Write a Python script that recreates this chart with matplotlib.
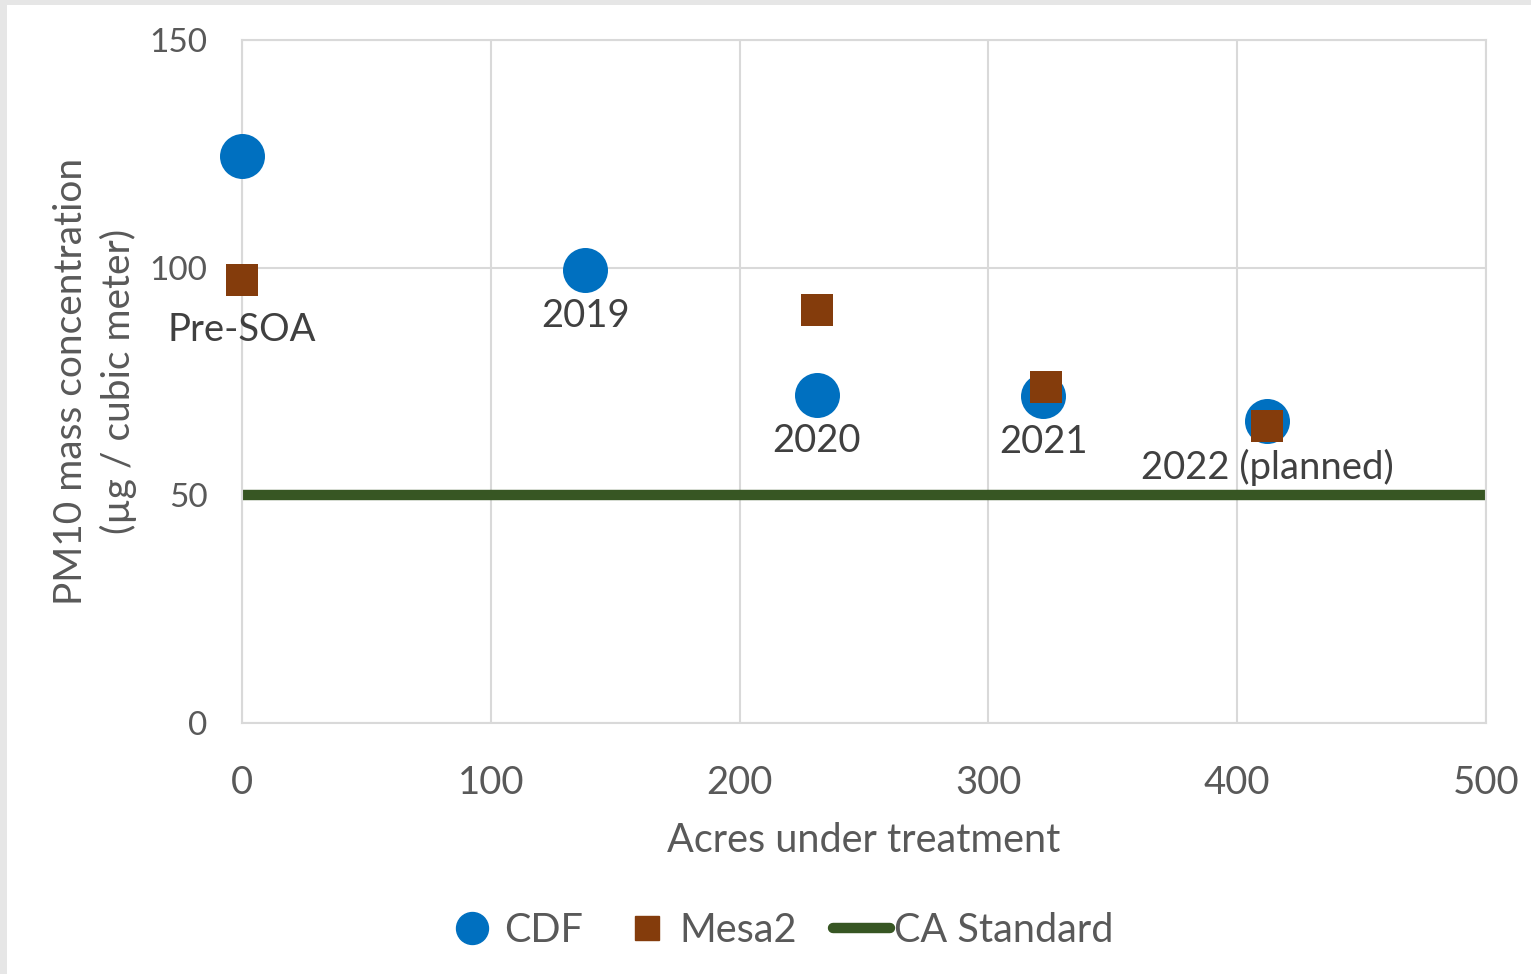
import matplotlib.pyplot as plt
from matplotlib.patches import Rectangle
from matplotlib.lines import Line2D

plt.rcParams['font.family'] = ['Lato', 'DejaVu Sans']

# Data
cdf_acres = [0, 138, 231, 322, 412]
cdf_pm10 = [124.5, 99.5, 72.0, 71.8, 66.3]
mesa2_acres = [0, 231, 323, 412]
mesa2_pm10 = [97.3, 90.7, 73.8, 65.2]
point_labels = ['Pre-SOA', '2019', '2020', '2021', '2022 (planned)']
ca_standard = 50
x_ticks = [0, 100, 200, 300, 400, 500]
y_ticks = [0, 50, 100, 150]

blue = '#0070C0'
brown = '#843C0C'
green = '#375623'
grid_c = '#D9D9D9'
text_c = '#595959'

W, H = 1531, 974
fig = plt.figure(figsize=(W / 100, H / 100), dpi=100)
fig.patch.set_facecolor('white')

# thin grey frame strips along top and left edge
fig.patches.append(Rectangle((0, 1 - 5 / H), 1, 5 / H, transform=fig.transFigure,
                             facecolor='#E6E6E6', edgecolor='none', zorder=0))
fig.patches.append(Rectangle((0, 0), 7 / W, 1, transform=fig.transFigure,
                             facecolor='#E6E6E6', edgecolor='none', zorder=0))

ax = fig.add_axes([242 / W, 1 - 723 / H, (1486 - 242) / W, (723 - 40) / H])
ax.set_xlim(0, 500)
ax.set_ylim(0, 150)
ax.set_xticks(x_ticks)
ax.set_yticks(y_ticks)
ax.grid(True, color=grid_c, linewidth=1.5, zorder=0)
for s in ax.spines.values():
    s.set_color(grid_c)
    s.set_linewidth(1.5)
ax.tick_params(length=0, colors=text_c)
ax.tick_params(axis='x', labelsize=27.5, pad=30)
ax.tick_params(axis='y', labelsize=24, pad=25)

ax.axhline(ca_standard, color=green, linewidth=7.5, zorder=2, solid_capstyle='butt')
ax.scatter(cdf_acres, cdf_pm10, s=1050, color=blue, marker='o', linewidths=0,
           zorder=3, clip_on=False)
ax.scatter(mesa2_acres, mesa2_pm10, s=560, color=brown, marker='s', linewidths=0,
           zorder=4, clip_on=False)

# data labels below the points (the first one sits under the Mesa2 square)
anchors = [(mesa2_acres[0], mesa2_pm10[0])] + list(zip(cdf_acres[1:], cdf_pm10[1:]))
label_drop = [36, 33, 33, 33, 33]
for (xv, yv), lab, d in zip(anchors, point_labels, label_drop):
    ax.annotate(lab, (xv, yv), xytext=(0, -d), textcoords='offset points',
                ha='center', va='center', fontsize=27.5, color='#404040', zorder=5)

ax.set_xlabel('Acres under treatment', fontsize=28.5, color=text_c)
ax.xaxis.set_label_coords(0.5, (723 - 840) / 683)
ax.xaxis.label.set_va('center')
ax.set_ylabel('PM10 mass concentration\n(µg / cubic meter)', fontsize=28,
              color=text_c, linespacing=1.39)
ax.yaxis.set_label_coords((95 - 242) / 1244, 0.5)
ax.yaxis.label.set_va('center')

handles = [
    Line2D([], [], marker='o', linestyle='none', color=blue, markersize=23),
    Line2D([], [], marker='s', linestyle='none', color=brown, markersize=17),
    Line2D([], [], color=green, linewidth=7.5, solid_capstyle='round'),
]
fig.legend(handles, ['CDF', 'Mesa2', 'CA Standard'], loc='center',
           bbox_to_anchor=(778 / W, 1 - 930 / H), ncol=3, frameon=False,
           fontsize=28.5, labelcolor=text_c, handlelength=1.46, handletextpad=0.08,
           columnspacing=0.9)

fig.savefig('out.png', dpi=100)
